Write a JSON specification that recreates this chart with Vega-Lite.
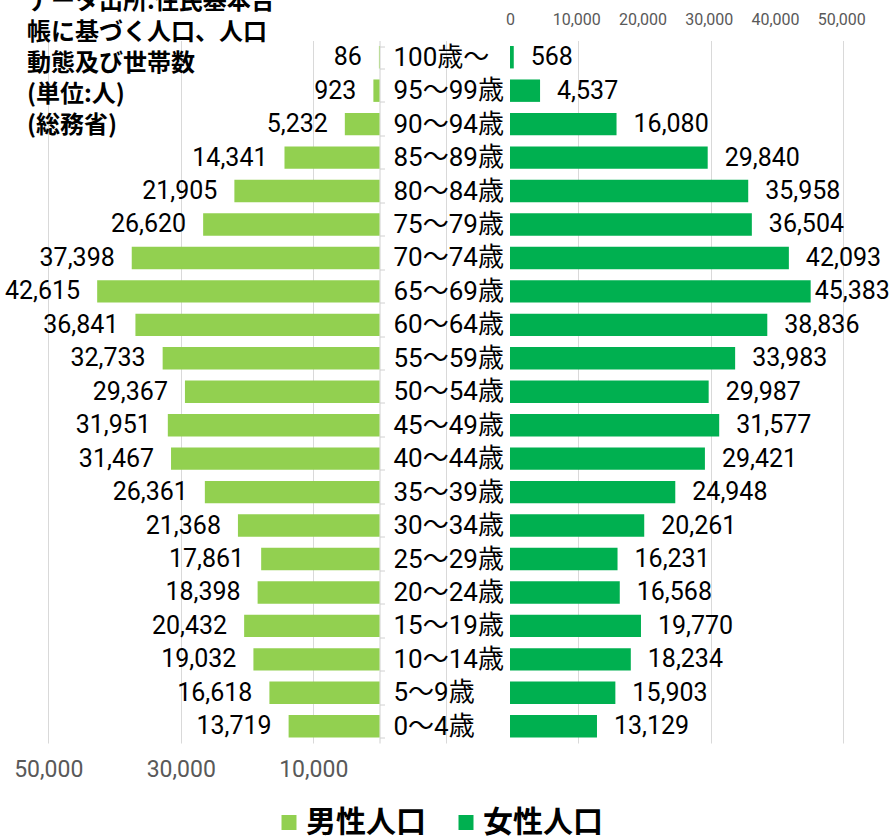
{
  "$schema": "https://vega.github.io/schema/vega-lite/v6.json",
  "width": 890,
  "height": 702.5,
  "autosize": "none",
  "padding": {"left": 0, "top": 40.5, "right": 0, "bottom": 94},
  "background": "white",
  "title": {
    "text": ["データ出所:住民基本台", "帳に基づく人口、人口", "動態及び世帯数", "(単位:人)", "(総務省)"],
    "anchor": "start",
    "frame": "group",
    "orient": "top",
    "font": "Noto Sans CJK JP",
    "fontSize": 24,
    "fontWeight": "bold",
    "color": "#000000",
    "lineHeight": 31,
    "baseline": "top",
    "offset": 0,
    "dx": 27,
    "dy": 126
  },
  "data": {
    "values": [
      {"age": "100歳～", "male": 86, "female": 568},
      {"age": "95～99歳", "male": 923, "female": 4537},
      {"age": "90～94歳", "male": 5232, "female": 16080},
      {"age": "85～89歳", "male": 14341, "female": 29840},
      {"age": "80～84歳", "male": 21905, "female": 35958},
      {"age": "75～79歳", "male": 26620, "female": 36504},
      {"age": "70～74歳", "male": 37398, "female": 42093},
      {"age": "65～69歳", "male": 42615, "female": 45383},
      {"age": "60～64歳", "male": 36841, "female": 38836},
      {"age": "55～59歳", "male": 32733, "female": 33983},
      {"age": "50～54歳", "male": 29367, "female": 29987},
      {"age": "45～49歳", "male": 31951, "female": 31577},
      {"age": "40～44歳", "male": 31467, "female": 29421},
      {"age": "35～39歳", "male": 26361, "female": 24948},
      {"age": "30～34歳", "male": 21368, "female": 20261},
      {"age": "25～29歳", "male": 17861, "female": 16231},
      {"age": "20～24歳", "male": 18398, "female": 16568},
      {"age": "15～19歳", "male": 20432, "female": 19770},
      {"age": "10～14歳", "male": 19032, "female": 18234},
      {"age": "5～9歳", "male": 16618, "female": 15903},
      {"age": "0～4歳", "male": 13719, "female": 13129}
    ]
  },
  "encoding": {
    "y": {
      "field": "age",
      "type": "nominal",
      "sort": null,
      "scale": {"paddingInner": 0.33, "paddingOuter": 0.165},
      "axis": {
        "orient": "right",
        "offset": -510.5,
        "title": null,
        "tickBand": "extent",
        "ticks": true,
        "tickSize": 5,
        "tickColor": "#d0d0d0",
        "domainColor": "#d0d0d0",
        "grid": false,
        "labelAlign": "left",
        "labelBaseline": "middle",
        "labelPadding": 8.5,
        "labelFont": "Roboto, Noto Sans CJK JP",
        "labelFontSize": 26,
        "labelColor": "#000000",
        "labelLimit": 300
      }
    }
  },
  "layer": [
    {
      "encoding": {
        "x": {
          "field": "male",
          "type": "quantitative",
          "scale": {"domain": [-77057, 57283], "reverse": true, "nice": false, "zero": false},
          "axis": {
            "orient": "bottom",
            "title": null,
            "values": [50000, 30000, 10000, -10000, -30000, -50000, -70000],
            "labelExpr": "datum.value > 0 ? format(datum.value, ',d') : ''",
            "grid": true,
            "gridColor": "#d9d9d9",
            "gridWidth": 1,
            "ticks": false,
            "domain": false,
            "labelFont": "Roboto",
            "labelFontSize": 23,
            "labelColor": "#595959",
            "labelPadding": 15,
            "labelFlush": false
          }
        }
      },
      "layer": [
        {
          "mark": {"type": "bar"},
          "encoding": {
            "x2": {"datum": 0},
            "color": {
              "datum": "男性人口",
              "title": null,
              "scale": {"domain": ["男性人口", "女性人口"], "range": ["#92d050", "#00b050"]}
            }
          }
        },
        {
          "mark": {"type": "text", "align": "right", "baseline": "middle", "dx": -17, "font": "Roboto", "fontSize": 25, "color": "#000000"},
          "encoding": {
            "text": {"field": "male", "type": "quantitative", "format": ","}
          }
        }
      ]
    },
    {
      "encoding": {
        "x": {
          "field": "female",
          "type": "quantitative",
          "scale": {"domain": [-76981, 57358], "nice": false, "zero": false},
          "axis": {
            "orient": "top",
            "title": null,
            "values": [0, 10000, 20000, 30000, 40000, 50000],
            "format": ",d",
            "grid": false,
            "ticks": false,
            "domain": false,
            "labelFont": "Roboto",
            "labelFontSize": 16,
            "labelColor": "#595959",
            "labelPadding": 13,
            "labelFlush": false
          }
        }
      },
      "layer": [
        {
          "mark": {"type": "bar"},
          "encoding": {
            "x2": {"datum": 0},
            "color": {"datum": "女性人口", "title": null}
          }
        },
        {
          "transform": [{"filter": "datum.female < 45000"}],
          "mark": {"type": "text", "align": "left", "baseline": "middle", "dx": 17, "font": "Roboto", "fontSize": 25, "color": "#000000"},
          "encoding": {
            "text": {"field": "female", "type": "quantitative", "format": ","}
          }
        },
        {
          "transform": [{"filter": "datum.female >= 45000"}],
          "mark": {"type": "text", "align": "left", "baseline": "middle", "dx": 4, "font": "Roboto", "fontSize": 25, "color": "#000000"},
          "encoding": {
            "text": {"field": "female", "type": "quantitative", "format": ","}
          }
        }
      ]
    }
  ],
  "resolve": {"scale": {"x": "independent"}, "axis": {"x": "independent"}},
  "config": {
    "view": {"stroke": null},
    "legend": {
      "orient": "none",
      "legendX": 274,
      "legendY": 767,
      "direction": "horizontal",
      "padding": 0,
      "symbolType": "square",
      "symbolSize": 225,
      "symbolStrokeWidth": 0,
      "symbolOpacity": 1,
      "labelFont": "Noto Sans CJK JP",
      "labelFontSize": 30,
      "labelFontWeight": "bold",
      "labelColor": "#000000",
      "labelOffset": 2,
      "columnPadding": 25,
      "labelLimit": 300
    }
  }
}
